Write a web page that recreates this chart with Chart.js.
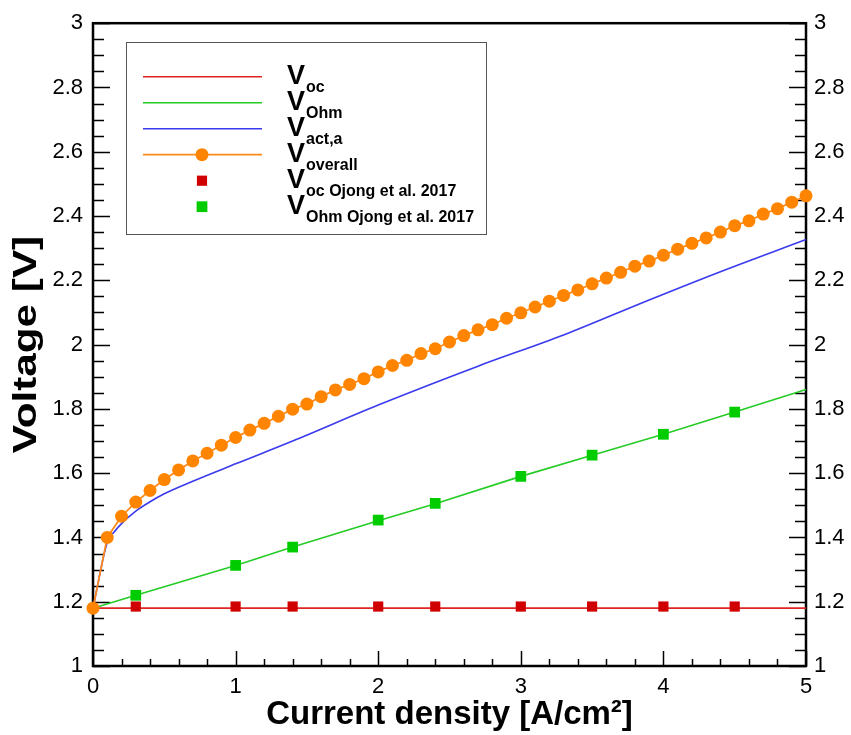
<!DOCTYPE html>
<html><head><meta charset="utf-8">
<script src="https://cdn.jsdelivr.net/npm/chart.js@4/dist/chart.umd.min.js"></script>
<style>html,body{margin:0;padding:0;background:#fff;}#wrap{width:851px;height:735px;position:relative;}</style>
</head><body><div id="wrap"><canvas id="c" width="851" height="735"></canvas></div>
<script>
// ---- data ----
const overallX = [0,0.1,0.2,0.3,0.4,0.5,0.6,0.7,0.8,0.9,1.0,1.1,1.2,1.3,1.4,1.5,1.6,1.7,1.8,1.9,2.0,2.1,2.2,2.3,2.4,2.5,2.6,2.7,2.8,2.9,3.0,3.1,3.2,3.3,3.4,3.5,3.6,3.7,3.8,3.9,4.0,4.1,4.2,4.3,4.4,4.5,4.6,4.7,4.8,4.9,5.0];
const overallV = [1.18,1.40,1.466,1.51,1.546,1.58,1.61,1.638,1.662,1.687,1.711,1.734,1.755,1.777,1.799,1.815,1.838,1.859,1.876,1.894,1.915,1.935,1.951,1.972,1.987,2.008,2.028,2.046,2.062,2.082,2.099,2.117,2.135,2.153,2.170,2.189,2.207,2.225,2.244,2.260,2.278,2.297,2.315,2.332,2.350,2.370,2.385,2.406,2.423,2.443,2.463];
const actX = [0,0.1,0.15,0.2,0.3,0.4,0.5,0.7,1.0,1.4,2.0,2.7,3.3,3.9,4.4,5.0];
const actV = [1.18,1.385,1.418,1.443,1.482,1.511,1.536,1.575,1.629,1.700,1.812,1.933,2.030,2.139,2.227,2.327];
const ohmX = [0,0.3,1,1.4,2,2.4,3,3.5,4,4.5,5];
const ohmV = [1.18,1.22,1.313,1.37,1.452,1.505,1.59,1.656,1.721,1.79,1.86];
const vocX = [0,5];
const vocV = [1.18,1.18];
const refX = [0.3,1,1.4,2,2.4,3,3.5,4,4.5];
const refVocV = [1.185,1.185,1.185,1.185,1.185,1.185,1.185,1.185,1.185];
const refOhmV = [1.22,1.313,1.37,1.454,1.506,1.59,1.656,1.721,1.79];
const xTickLabels = [0,1,2,3,4,5];
const yTickLabels = [1,1.2,1.4,1.6,1.8,2,2.2,2.4,2.6,2.8,3];
const xTitle = 'Current density [A/cm²]';
const yTitle = 'Voltage [V]';
const legendSubs = ['oc','Ohm','act,a','overall','oc Ojong et al. 2017','Ohm Ojong et al. 2017'];

const pts = (xs, ys) => xs.map((x, i) => ({x: x, y: ys[i]}));

const FONT = "'Liberation Sans', Arial, Helvetica, sans-serif";

const framePlugin = {
  id: 'frame',
  beforeDatasetsDraw(chart) {
    const {ctx, chartArea: a, scales} = chart;
    ctx.save();
    ctx.strokeStyle = '#000';
    ctx.lineWidth = 1.5;
    const ys = scales.y;
    for (let k = 0; k <= 40; k++) {
      const v = 1 + k * 0.05;
      const p = Math.round(ys.getPixelForValue(v)) + 0.5;
      const L = (k % 4 === 0) ? 17 : 11;
      ctx.beginPath();
      ctx.moveTo(a.left, p); ctx.lineTo(a.left + L, p);
      ctx.moveTo(a.right, p); ctx.lineTo(a.right - L, p);
      ctx.stroke();
    }
    const xs = scales.x;
    for (let k = 0; k <= 25; k++) {
      const v = k * 0.2;
      const p = Math.round(xs.getPixelForValue(v)) + 0.5;
      const L = (k % 5 === 0) ? 15 : 7;
      ctx.beginPath();
      ctx.moveTo(p, a.bottom); ctx.lineTo(p, a.bottom - L);
      ctx.stroke();
    }
    ctx.lineWidth = 2.5;
    ctx.strokeRect(a.left, a.top, a.right - a.left, a.bottom - a.top);
    // y axis title (drawn slightly stretched like the original)
    ctx.save();
    ctx.translate(27, (a.top + a.bottom) / 2);
    ctx.rotate(-Math.PI / 2);
    ctx.scale(1.28, 1);
    ctx.fillStyle = '#000';
    ctx.font = 'bold 33px ' + FONT;
    ctx.textAlign = 'center';
    ctx.textBaseline = 'middle';
    ctx.fillText(yTitle, 0, 0);
    ctx.restore();
    ctx.restore();
  }
};

const legendPlugin = {
  id: 'customLegend',
  afterDraw(chart) {
    const ctx = chart.ctx;
    ctx.save();
    ctx.fillStyle = '#fff';
    ctx.fillRect(126, 42, 361, 193);
    ctx.strokeStyle = '#555';
    ctx.lineWidth = 1;
    ctx.strokeRect(126.5, 42.5, 360, 192);
    chart.data.datasets.forEach((ds, i) => {
      const ry = 76.7 + i * 26;
      if (ds.showLine !== false) {
        ctx.strokeStyle = ds.borderColor;
        ctx.lineWidth = ds.borderWidth;
        ctx.beginPath(); ctx.moveTo(143, ry); ctx.lineTo(262, ry); ctx.stroke();
      }
      if (ds.pointRadius > 0) {
        ctx.fillStyle = ds.pointBackgroundColor;
        if (ds.pointStyle === 'rect') {
          const s = ds.pointRadius * Math.SQRT2;
          ctx.fillRect(202 - s / 2, ry - s / 2, s, s);
        } else {
          ctx.beginPath(); ctx.arc(202, ry, ds.pointRadius, 0, Math.PI * 2); ctx.fill();
        }
      }
      ctx.fillStyle = '#000';
      ctx.textBaseline = 'alphabetic';
      ctx.textAlign = 'left';
      ctx.font = 'bold 27px ' + FONT;
      ctx.fillText('V', 287, ry + 7.5);
      const w = ctx.measureText('V').width;
      ctx.font = 'bold 16px ' + FONT;
      ctx.fillText(legendSubs[i], 287 + w + 1, ry + 15.5);
    });
    ctx.restore();
  }
};

const yScaleCommon = {
  type: 'linear', min: 1, max: 3,
  grid: {display: false, drawTicks: false},
  border: {display: false},
  afterBuildTicks: s => { s.ticks = yTickLabels.map(v => ({value: v})); },
  ticks: {
    color: '#000', font: {family: FONT, size: 22}, padding: 10,
    callback: v => String(Math.round(v * 10) / 10)
  }
};

new Chart(document.getElementById('c'), {
  type: 'scatter',
  data: {
    datasets: [
      {label: 'V_oc', data: pts(vocX, vocV), showLine: true, borderColor: '#e02424', borderWidth: 1.6,
       pointRadius: 0, pointBackgroundColor: '#e02424', order: 5},
      {label: 'V_Ohm', data: pts(ohmX, ohmV), showLine: true, borderColor: '#25cc25', borderWidth: 1.6,
       pointRadius: 0, pointBackgroundColor: '#25cc25', order: 4},
      {label: 'V_act,a', data: pts(actX, actV), showLine: true, borderColor: '#3a3aee', borderWidth: 1.6,
       cubicInterpolationMode: 'monotone', pointRadius: 0, pointBackgroundColor: '#3a3aee', order: 3},
      {label: 'V_overall', data: pts(overallX, overallV), showLine: true, borderColor: '#ff8a1a', borderWidth: 1.8,
       pointRadius: 6.5, pointStyle: 'circle', pointBackgroundColor: '#ff8500', pointBorderWidth: 0, order: 2},
      {label: 'V_oc Ojong et al. 2017', data: pts(refX, refVocV), showLine: false,
       pointStyle: 'rect', pointRadius: 7.2, pointBackgroundColor: '#d00000', pointBorderWidth: 0, borderColor: '#d00000', order: 1},
      {label: 'V_Ohm Ojong et al. 2017', data: pts(refX, refOhmV), showLine: false,
       pointStyle: 'rect', pointRadius: 7.6, pointBackgroundColor: '#00cc00', pointBorderWidth: 0, borderColor: '#00cc00', order: 0}
    ]
  },
  options: {
    responsive: false, animation: false,
    clip: false,
    layout: {padding: {top: 20, left: 0, right: 0, bottom: 0}},
    plugins: {legend: {display: false}, tooltip: {enabled: false}},
    scales: {
      x: {
        type: 'linear', position: 'bottom', min: 0, max: 5,
        grid: {display: false, drawTicks: false},
        border: {display: false},
        afterBuildTicks: s => { s.ticks = xTickLabels.map(v => ({value: v})); },
        ticks: {color: '#000', font: {family: FONT, size: 22}, padding: 8, maxRotation: 0},
        title: {display: true, text: xTitle, color: '#000',
                font: {family: FONT, size: 33, weight: 'bold'}, padding: {top: 0, bottom: 0}},
        afterFit: s => { s.height = 69; }
      },
      y: Object.assign({}, yScaleCommon, {
        position: 'left',
        afterFit: s => { s.width = 93; }
      }),
      y2: Object.assign({}, yScaleCommon, {
        position: 'right',
        ticks: Object.assign({}, yScaleCommon.ticks, {padding: 8}),
        afterFit: s => { s.width = 45; }
      })
    }
  },
  plugins: [framePlugin, legendPlugin]
});
</script>
</body></html>
